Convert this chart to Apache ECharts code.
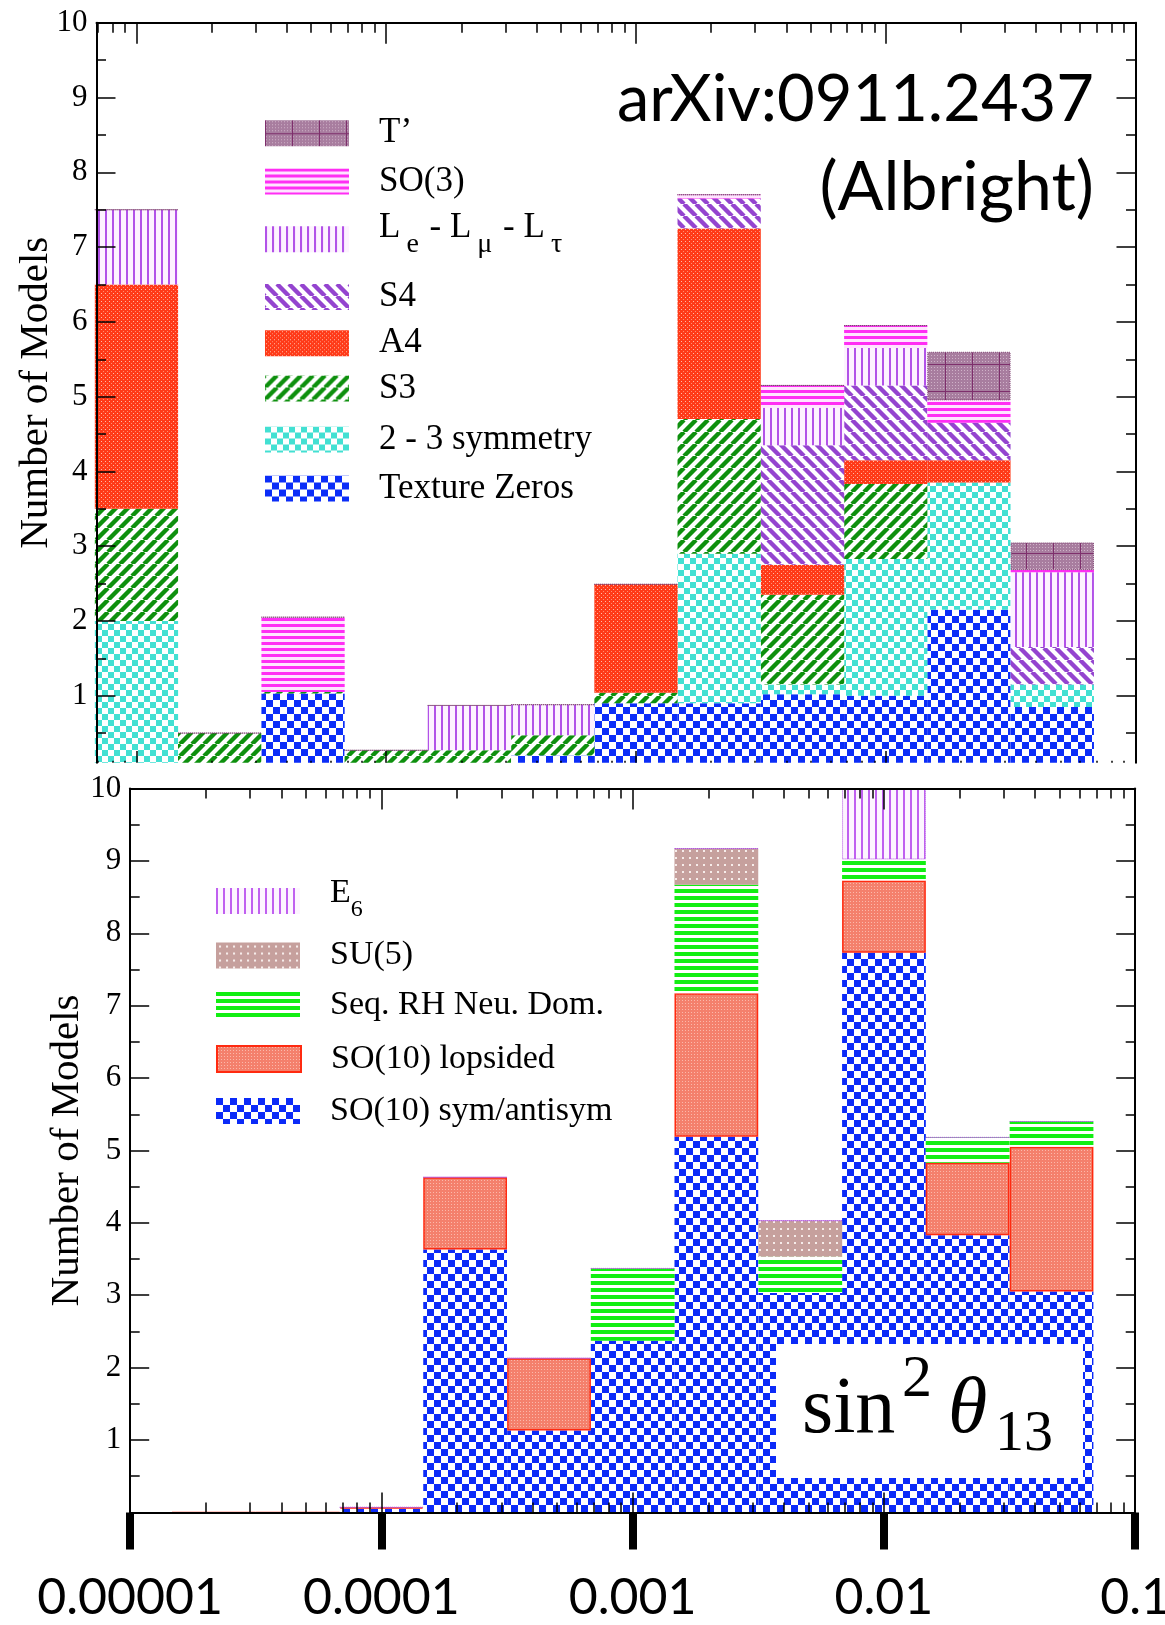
<!DOCTYPE html>
<html>
<head>
<meta charset="utf-8">
<title>sin^2 theta13 predictions by model class</title>
<script src="https://cdn.jsdelivr.net/npm/echarts@6/dist/echarts.min.js"></script>
<style>
  html, body { margin: 0; padding: 0; background: #fff; }
  #chart { width: 1165px; height: 1625px; }
</style>
</head>
<body>
<div id="chart"></div>
<script>
// ---------------------------------------------------------------------------
// Data: number of models per bin of sin^2(theta13).
// Bins are one third of a decade wide; positions are log10 of the bin centre.
// ---------------------------------------------------------------------------
const binsUpper = [-5.000, -4.667, -4.333, -4.000, -3.667, -3.333, -3.000, -2.667, -2.333, -2.000, -1.667, -1.333];
const binsLower = [-5.000, -4.667, -4.333, -4.000, -3.667, -3.333, -3.000, -2.667, -2.333, -2.000, -1.667, -1.333, -1.000];

// Upper panel: flavour-symmetry model classes (stacked bottom to top)
const textureZeros = [0, 0, 1.03, 0, 0, 0.20, 0.90, 0.90, 1.02, 1.00, 2.15, 0.85];
const sym23        = [2.00, 0, 0, 0, 0, 0, 0, 2.00, 0.13, 1.83, 1.70, 0.30];
const s3           = [1.50, 0.50, 0.02, 0.27, 0.27, 0.27, 0.14, 1.80, 1.20, 1.00, 0, 0];
const a4           = [3.00, 0, 0, 0, 0, 0, 1.45, 2.55, 0.40, 0.32, 0.30, 0];
const s4           = [0, 0, 0, 0, 0, 0, 0, 0.40, 1.60, 1.00, 0.50, 0.50];
const leLmuLtau    = [1.00, 0, 0, 0, 0.60, 0.41, 0, 0, 0.50, 0.50, 0, 1.00];
const so3          = [0, 0, 1.00, 0, 0, 0, 0, 0.05, 0.30, 0.30, 0.30, 0.03];
const tPrime       = [0, 0, 0, 0, 0, 0, 0, 0, 0, 0, 0.65, 0.37];

// Lower panel: GUT model classes (stacked bottom to top)
const so10Sym      = [0, 0, 0, 0.05, 3.63, 1.13, 2.37, 5.19, 3.03, 7.73, 3.83, 3.05, 0];
const so10Lop      = [0, 0, 0, 0.02, 1.00, 1.00, 0, 1.98, 0, 1.00, 1.00, 2.00, 0];
const seqRH        = [0, 0, 0, 0, 0, 0, 1.00, 1.50, 0.50, 0.29, 0.35, 0.35, 0];
const su5          = [0, 0, 0, 0, 0, 0, 0, 0.50, 0.50, 0, 0, 0, 0];
const e6           = [0, 0, 0, 0, 0, 0, 0, 0, 0, 1.30, 0, 0, 0];

// Axis ticks
const xTickExponents = [-5, -4, -3, -2, -1];
const xTickLabels    = ['0.00001', '0.0001', '0.001', '0.01', '0.1'];
const yTickValues    = [1, 2, 3, 4, 5, 6, 7, 8, 9, 10];

// ---------------------------------------------------------------------------
// Fill patterns (repeating canvas tiles)
// ---------------------------------------------------------------------------
function tile(w, h, paint) {
  const c = document.createElement('canvas');
  c.width = w; c.height = h;
  const g = c.getContext('2d');
  paint(g, w, h);
  return { image: c, repeat: 'repeat' };
}
function checker(s, fg, bg) {
  return tile(2 * s, 2 * s, g => {
    g.fillStyle = bg; g.fillRect(0, 0, 2 * s, 2 * s);
    g.fillStyle = fg; g.fillRect(0, 0, s, s); g.fillRect(s, s, s, s);
  });
}
function hStripes(p, t, fg, bg) {
  return tile(8, p, g => {
    g.fillStyle = bg; g.fillRect(0, 0, 8, p);
    g.fillStyle = fg; g.fillRect(0, 0, 8, t);
  });
}
function vStripes(p, t, fg, bg) {
  return tile(p, 8, g => {
    g.fillStyle = bg; g.fillRect(0, 0, p, 8);
    g.fillStyle = fg; g.fillRect(0, 0, t, 8);
  });
}
function diagonal(s, lw, fg, bg, rising) {
  return tile(s, s, g => {
    g.fillStyle = bg; g.fillRect(0, 0, s, s);
    g.strokeStyle = fg; g.lineWidth = lw; g.beginPath();
    for (let k = -1; k <= 1; k++) {
      if (rising) { g.moveTo(k * s, s); g.lineTo(k * s + s, 0); }
      else { g.moveTo(k * s, 0); g.lineTo(k * s + s, s); }
    }
    g.stroke();
  });
}
function dotted(s, base, dot, d, off) {
  return tile(s, s, g => {
    g.fillStyle = base; g.fillRect(0, 0, s, s);
    g.fillStyle = dot; g.fillRect(off, off, d, d);
  });
}

const fills = {
  textureZeros: checker(7, '#0b2df8', '#ffffff'),
  sym23: checker(6, '#42e0d2', '#ffffff'),
  s3: diagonal(12, 4.4, '#0e900e', '#ffffff', true),
  a4: tile(4, 4, g => {
    g.fillStyle = '#ff3a18'; g.fillRect(0, 0, 4, 4);
    g.fillStyle = '#ffbcaa'; g.fillRect(1, 1, 1, 1);
    g.fillStyle = '#ff8d74'; g.fillRect(3, 3, 1, 1);
  }),
  s4: diagonal(12, 4.4, '#9444cf', '#ffffff', false),
  le: vStripes(7, 2, '#b252e8', '#fdf2ff'),
  so3: hStripes(6, 3, '#ff2ef4', '#ffe4ff'),
  tPrime: tile(27, 27, g => {
    g.fillStyle = '#a87d9f'; g.fillRect(0, 0, 27, 27);
    g.fillStyle = '#cfb1c8';
    for (let i = 0; i < 9; i++) for (let j = 0; j < 9; j++) g.fillRect(i * 3 + 1, j * 3 + 1, 1, 1);
    g.fillStyle = '#7e2f6c'; g.fillRect(0, 0, 1, 27); g.fillRect(0, 13, 27, 1);
  }),
  so10Sym: checker(7, '#0b2af8', '#ffffff'),
  so10Lop: dotted(3, '#f4806c', '#fbb8aa', 1, 1),
  seqRH: hStripes(7, 4, '#12ee12', '#ffffff'),
  su5: tile(7, 7, g => {
    g.fillStyle = '#c6a09d'; g.fillRect(0, 0, 7, 7);
    g.fillStyle = '#f6ecea'; g.fillRect(3, 3, 2, 2);
  }),
  e6: vStripes(7, 2, '#c060f0', '#fdf5ff')
};

// ---------------------------------------------------------------------------
// Layout of the two panels
// ---------------------------------------------------------------------------
const UP = { left: 96.5, top: 22.8, width: 1039, height: 739.9, x: [-5.16, -1], y: [0.104, 10] };
const LO = { left: 130.2, top: 788.5, width: 1005, height: 723.9, x: [-5, -1], y: [0, 10] };
const BIN_WIDTH_DEC = 1 / 3;
const barWidthPx = p => p.width / (p.x[1] - p.x[0]) * BIN_WIDTH_DEC;

const SERIF = 'Liberation Serif';
const SANS = 'Lato';
const INK = '#000';

function inRange(vals, r) { return vals.filter(v => v >= r[0] - 1e-9 && v <= r[1] + 1e-9); }
const minorX = [];
for (let d = -6; d <= -1; d++) for (let m = 2; m <= 9; m++) minorX.push(d + Math.log10(m));
const minorY = [];
for (let v = 0.5; v < 10; v += 1) minorY.push(v);

function xAxisDef(gi, p, pos, ticks, len, opts) {
  return Object.assign({
    type: 'value', gridIndex: gi, position: pos, min: p.x[0], max: p.x[1], z: 5,
    axisLine: { show: false, onZero: false, lineStyle: { color: INK, width: 2 } },
    axisTick: { show: true, inside: true, length: len, customValues: inRange(ticks, p.x),
                lineStyle: { color: INK, width: 1.5 } },
    axisLabel: { show: false },
    splitLine: { show: false }, minorTick: { show: false }, minorSplitLine: { show: false }
  }, opts || {});
}
function yAxisDef(gi, p, pos, ticks, len, opts) {
  return Object.assign({
    type: 'value', gridIndex: gi, position: pos, min: p.y[0], max: p.y[1], z: 5,
    axisLine: { show: false, onZero: false, lineStyle: { color: INK, width: 2 } },
    axisTick: { show: true, inside: true, length: len, customValues: inRange(ticks, p.y),
                lineStyle: { color: INK, width: 1.5 } },
    axisLabel: { show: false },
    splitLine: { show: false }, minorTick: { show: false }, minorSplitLine: { show: false }
  }, opts || {});
}
const frameLine = { show: true, onZero: false, lineStyle: { color: INK, width: 2 } };
const yLabels = { show: true, customValues: yTickValues, fontFamily: SERIF, fontSize: 31, color: INK, margin: 9 };
const yName = (gap) => ({
  name: 'Number of Models', nameLocation: 'middle', nameGap: gap, nameRotate: 90, nameMoveOverlap: false,
  nameTextStyle: { fontFamily: SERIF, fontSize: 41, color: INK }
});

const xAxes = [
  // upper panel: 0..3
  xAxisDef(0, UP, 'bottom', xTickExponents, 11.7),
  xAxisDef(0, UP, 'bottom', minorX, 2),
  xAxisDef(0, UP, 'top', xTickExponents, 21, { axisLine: frameLine }),
  xAxisDef(0, UP, 'top', minorX, 10),
  // lower panel: 4..8
  xAxisDef(1, LO, 'bottom', xTickExponents, 20),
  xAxisDef(1, LO, 'bottom', minorX, 10),
  xAxisDef(1, LO, 'top', xTickExponents, 21, { axisLine: frameLine }),
  xAxisDef(1, LO, 'top', minorX, 10),
  xAxisDef(1, LO, 'bottom', xTickExponents, 37, {
    axisLine: frameLine,
    axisTick: { show: true, inside: false, length: 37, customValues: xTickExponents,
                lineStyle: { color: INK, width: 8 } },
    axisLabel: {
      show: true, customValues: xTickExponents, margin: 60,
      fontFamily: SANS, fontSize: 50, color: INK,
      formatter: v => xTickLabels[xTickExponents.indexOf(Math.round(v))]
    }
  })
];
const yAxes = [
  // upper panel: 0..3
  yAxisDef(0, UP, 'left', yTickValues, 19, Object.assign({ axisLine: frameLine, axisLabel: yLabels }, yName(40))),
  yAxisDef(0, UP, 'left', minorY, 9.5),
  yAxisDef(0, UP, 'right', yTickValues, 19, { axisLine: frameLine }),
  yAxisDef(0, UP, 'right', minorY, 9.5),
  // lower panel: 4..7
  yAxisDef(1, LO, 'left', yTickValues, 19, Object.assign({ axisLine: frameLine, axisLabel: yLabels }, yName(42))),
  yAxisDef(1, LO, 'left', minorY, 9.5),
  yAxisDef(1, LO, 'right', yTickValues, 19, { axisLine: frameLine }),
  yAxisDef(1, LO, 'right', minorY, 9.5)
];

// ---------------------------------------------------------------------------
// Series: each row is [count, log10 bin centre]; the count column comes first
// so that the stack is built on the y (count) dimension.
// ---------------------------------------------------------------------------
function bars(name, bins, vals, fill, axisIdx, stack, width, extraStyle, itemStyleFn) {
  return {
    type: 'bar', name, stack, stackStrategy: 'all',
    xAxisIndex: axisIdx, yAxisIndex: axisIdx,
    encode: { x: 1, y: 0 },
    barWidth: width, clip: true, silent: true, z: 2,
    emphasis: { disabled: true },
    itemStyle: Object.assign({ color: fill, borderWidth: 0 }, extraStyle || {}),
    data: vals.map((v, i) => itemStyleFn
      ? { value: [v, bins[i]], itemStyle: itemStyleFn(v, i) }
      : [v, bins[i]])
  };
}

const wUp = barWidthPx(UP);
const wLo = barWidthPx(LO);
const lowerTotals = binsLower.map((_, i) => so10Sym[i] + so10Lop[i] + seqRH[i] + su5[i] + e6[i]);
// a bin lies fully inside the lower frame
const insideLower = i => binsLower[i] - BIN_WIDTH_DEC / 2 >= LO.x[0] - 1e-6 &&
                         binsLower[i] + BIN_WIDTH_DEC / 2 <= LO.x[1] + 1e-6;

const upperSeries = [
  bars('Texture Zeros', binsUpper, textureZeros, fills.textureZeros, 0, 'up', wUp),
  bars('2 - 3 symmetry', binsUpper, sym23, fills.sym23, 0, 'up', wUp),
  bars('S3', binsUpper, s3, fills.s3, 0, 'up', wUp),
  bars('A4', binsUpper, a4, fills.a4, 0, 'up', wUp),
  bars('S4', binsUpper, s4, fills.s4, 0, 'up', wUp),
  bars('Le-Lmu-Ltau', binsUpper, leLmuLtau, fills.le, 0, 'up', wUp),
  bars('SO(3)', binsUpper, so3, fills.so3, 0, 'up', wUp),
  bars('T’', binsUpper, tPrime, fills.tPrime, 0, 'up', wUp,
       { borderColor: '#7a3a6c', borderWidth: 1, borderType: 'dotted' })
];
const lowerSeries = [
  bars('SO(10) sym/antisym', binsLower, so10Sym, fills.so10Sym, 4, 'lo', wLo),
  bars('SO(10) lopsided', binsLower, so10Lop, fills.so10Lop, 4, 'lo', wLo,
       { borderColor: '#ff2a10', borderWidth: 1.5 },
       (v, i) => ({ borderWidth: (v > 0 || (so10Sym[i] === 0 && insideLower(i))) ? 1.5 : 0 })),
  bars('Seq. RH Neu. Dom.', binsLower, seqRH, fills.seqRH, 4, 'lo', wLo),
  bars('SU(5)', binsLower, su5, fills.su5, 4, 'lo', wLo),
  bars('E6', binsLower, e6, fills.e6, 4, 'lo', wLo,
       { borderColor: '#b050e0', borderWidth: 1, borderType: 'dotted' },
       (v, i) => ({ borderWidth: lowerTotals[i] > 0 ? 1 : 0 }))
];

// ---------------------------------------------------------------------------
// Legends (one per entry so each row sits at its own height)
// ---------------------------------------------------------------------------
function legendRow(name, left, centerY, fontSize, opts) {
  const o = opts || {};
  const boxH = o.boxH || 32;
  return {
    data: [name], orient: 'vertical', left, top: centerY - boxH / 2, padding: 0,
    itemWidth: 84, itemHeight: 26, icon: 'rect', selectedMode: false,
    itemStyle: o.itemStyle || { borderWidth: 0 },
    formatter: o.formatter,
    textStyle: Object.assign({
      fontFamily: SERIF, fontSize, color: INK, padding: o.rich ? [0, 0, 0, 25] : [0, 0, 6, 25]
    }, o.rich ? { rich: o.rich } : { lineHeight: 26 })
  };
}
const upperLegend = [
  ['T’', 131.7], ['SO(3)', 180], ['Le-Lmu-Ltau', 239.3], ['S4', 295.5],
  ['A4', 341.7], ['S3', 387], ['2 - 3 symmetry', 438], ['Texture Zeros', 487]
].map(([n, c]) => n === 'Le-Lmu-Ltau'
  ? legendRow(n, 265, c, 35, {
      boxH: 57,
      formatter: () => '{m|L}{s|e}{m| - L}{s|μ}{m| - L}{s|τ}',
      rich: {
        m: { fontFamily: SERIF, fontSize: 35, color: INK, height: 35, lineHeight: 35, verticalAlign: 'top' },
        s: { fontFamily: SERIF, fontSize: 28, color: INK, height: 28, lineHeight: 57, verticalAlign: 'top',
             padding: [20, 2, 9, 6] }
      }
    })
  : legendRow(n, 265, c, 35));
const lowerLegend = [
  ['E6', 901], ['SU(5)', 954.5], ['Seq. RH Neu. Dom.', 1004], ['SO(10) lopsided', 1058], ['SO(10) sym/antisym', 1110]
].map(([n, c]) => {
  if (n === 'E6') {
    return legendRow(n, 216, c, 34, {
      boxH: 49,
      formatter: () => '{m|E}{s|6}',
      rich: {
        m: { fontFamily: SERIF, fontSize: 34, color: INK, height: 34, lineHeight: 34, verticalAlign: 'top' },
        s: { fontFamily: SERIF, fontSize: 24, color: INK, height: 24, lineHeight: 49, verticalAlign: 'top',
             padding: [21, 0, 4, 0] }
      }
    });
  }
  if (n === 'SO(10) lopsided') {
    return legendRow(n, 216, c, 34, { itemStyle: { borderWidth: 2, borderColor: '#ff2a10' } });
  }
  return legendRow(n, 216, c, 34);
});

// ---------------------------------------------------------------------------
// Annotations
// ---------------------------------------------------------------------------
const serifFont = (px, italic) => (italic ? 'italic ' : '') + px + 'px "Liberation Serif", serif';
const sansFont = px => px + 'px Lato, sans-serif';
const graphics = [
  { type: 'text', x: 1094, y: 100, z: 100,
    style: { text: 'arXiv:0911.2437', font: sansFont(65), fill: INK, align: 'right', verticalAlign: 'middle' } },
  { type: 'text', x: 1094, y: 188, z: 100,
    style: { text: '(Albright)', font: sansFont(68), fill: INK, align: 'right', verticalAlign: 'middle' } },
  { type: 'rect', z: 100, shape: { x: 776, y: 1344, width: 307, height: 134 }, style: { fill: '#fff' } },
  { type: 'text', x: 802, y: 1411, z: 101,
    style: { text: 'sin', font: serifFont(80), fill: INK, align: 'left', verticalAlign: 'middle' } },
  { type: 'text', x: 902, y: 1380, z: 101,
    style: { text: '2', font: serifFont(60), fill: INK, align: 'left', verticalAlign: 'middle' } },
  { type: 'text', x: 948, y: 1411, z: 101,
    style: { text: 'θ', font: serifFont(80, true), fill: INK, align: 'left', verticalAlign: 'middle' } },
  { type: 'text', x: 995, y: 1435, z: 101,
    style: { text: '13', font: serifFont(58), fill: INK, align: 'left', verticalAlign: 'middle' } }
];

const chart = echarts.init(document.getElementById('chart'), null, { renderer: 'canvas', width: 1165, height: 1625 });
chart.setOption({
  animation: false,
  backgroundColor: '#fff',
  tooltip: { show: false },
  grid: [
    { left: UP.left, top: UP.top, width: UP.width, height: UP.height, containLabel: false, outerBoundsMode: 'none' },
    { left: LO.left, top: LO.top, width: LO.width, height: LO.height, containLabel: false, outerBoundsMode: 'none' }
  ],
  xAxis: xAxes,
  yAxis: yAxes,
  legend: upperLegend.concat(lowerLegend),
  series: upperSeries.concat(lowerSeries),
  graphic: graphics
});
</script>
</body>
</html>
